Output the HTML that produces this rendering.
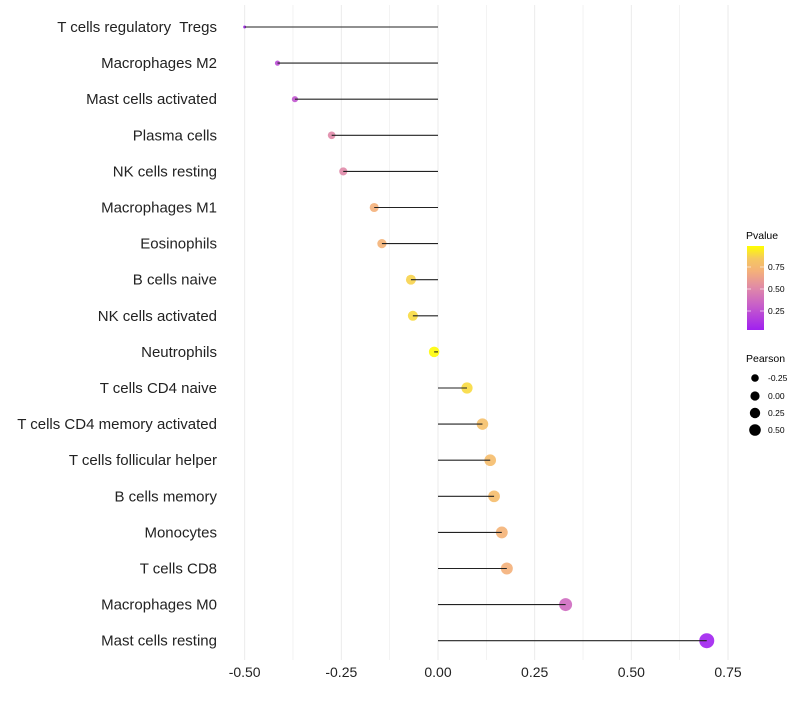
<!DOCTYPE html>
<html><head><meta charset="utf-8"><style>
body{margin:0;background:#fff;font-family:"Liberation Sans",sans-serif}
</style></head><body>
<svg id="chart" width="800" height="700" xmlns="http://www.w3.org/2000/svg">
<defs><linearGradient id="pg" x1="0" y1="1" x2="0" y2="0">
<stop offset="0" stop-color="#a020f0"/><stop offset="0.3" stop-color="#c860c8"/>
<stop offset="0.5" stop-color="#e089a8"/><stop offset="0.7" stop-color="#f4b07a"/><stop offset="0.85" stop-color="#f5c860"/><stop offset="1" stop-color="#ffff00"/></linearGradient></defs>
<g id="grid"></g>
<g id="marks"></g>
<g id="ylabels"></g>
<g id="xlabels"></g>
<g>
<text x="746" y="239" font-size="10.5">Pvalue</text>
<rect x="747" y="246" width="17" height="84" fill="url(#pg)"/>
<g stroke="#fff" stroke-width="1" opacity="0.6"><line x1="747" y1="267" x2="751" y2="267"/><line x1="760" y1="267" x2="764" y2="267"/><line x1="747" y1="289" x2="751" y2="289"/><line x1="760" y1="289" x2="764" y2="289"/><line x1="747" y1="311" x2="751" y2="311"/><line x1="760" y1="311" x2="764" y2="311"/></g>
<text x="768" y="270" font-size="8.5">0.75</text><text x="768" y="292" font-size="8.5">0.50</text><text x="768" y="314" font-size="8.5">0.25</text>
</g>
<g>
<text x="746" y="362" font-size="10.5">Pearson</text>
<circle cx="755" cy="378" r="3.8"/><text x="768" y="381" font-size="8.5">-0.25</text>
<circle cx="755" cy="396" r="4.6"/><text x="768" y="399" font-size="8.5">0.00</text>
<circle cx="755" cy="413" r="5.2"/><text x="768" y="416" font-size="8.5">0.25</text>
<circle cx="755" cy="430" r="5.8"/><text x="768" y="433" font-size="8.5">0.50</text>
</g>
</svg>
<script>
const categories=["T cells regulatory\u00a0 Tregs","Macrophages M2","Mast cells activated","Plasma cells","NK cells resting","Macrophages M1","Eosinophils","B cells naive","NK cells activated","Neutrophils","T cells CD4 naive","T cells CD4 memory activated","T cells follicular helper","B cells memory","Monocytes","T cells CD8","Macrophages M0","Mast cells resting"];
const pearson=[-0.50,-0.415,-0.37,-0.275,-0.245,-0.165,-0.145,-0.07,-0.065,-0.01,0.075,0.115,0.135,0.145,0.165,0.178,0.33,0.695];
const pvalue=[0.02,0.2,0.25,0.5,0.5,0.7,0.72,0.88,0.9,0.99,0.9,0.8,0.78,0.78,0.72,0.7,0.35,0.01];
const xticks=[-0.5,-0.25,0,0.25,0.5,0.75];
const tickLabels=["-0.50","-0.25","0.00","0.25","0.50","0.75"];
const NS="http://www.w3.org/2000/svg";
const x=v=>438+v*386.7;
const y=i=>27+i*36.1;
const rad=v=>Math.max(1.5,7.5*Math.pow(Math.max(0,(v+0.5)/1.195),0.4));
const stops=[[0,[160,32,240]],[0.3,[200,96,200]],[0.5,[224,137,168]],[0.7,[244,176,122]],[0.85,[245,200,96]],[1,[255,255,0]]];
function col(p){for(let k=1;k<stops.length;k++){if(p<=stops[k][0]){const a=stops[k-1],b=stops[k],t=(p-a[0])/(b[0]-a[0]);return "rgb("+a[1].map((c,j)=>Math.round(c+(b[1][j]-c)*t)).join(",")+")";}}return "rgb(255,255,0)";}
function mk(t,at,parent){const e=document.createElementNS(NS,t);for(const k in at)e.setAttribute(k,at[k]);document.getElementById(parent).appendChild(e);return e;}
for(let v=-0.5;v<=0.751;v+=0.125){const g=mk("line",{x1:x(v),x2:x(v),y1:5,y2:660,stroke:"#ebebeb","stroke-width":Math.abs(v*4-Math.round(v*4))<0.01?1:0.6},"grid");

}
xticks.forEach((v,i)=>{const t=mk("text",{x:x(v),y:677,"font-size":14,"text-anchor":"middle",fill:"#222"},"xlabels");t.textContent=tickLabels[i];

});
categories.forEach((c,i)=>{
const t=mk("text",{x:217,y:y(i)+5,"font-size":15,"text-anchor":"end",fill:"#222"},"ylabels");t.textContent=c;


const d=mk("circle",{cx:x(pearson[i]),cy:y(i),r:rad(pearson[i]),fill:col(pvalue[i]),"fill-opacity":0.9},"marks");


const l=mk("line",{x1:x(0),x2:x(pearson[i]),y1:y(i),y2:y(i),stroke:"#222","stroke-width":1.1},"marks");


});
</script>
</body></html>
